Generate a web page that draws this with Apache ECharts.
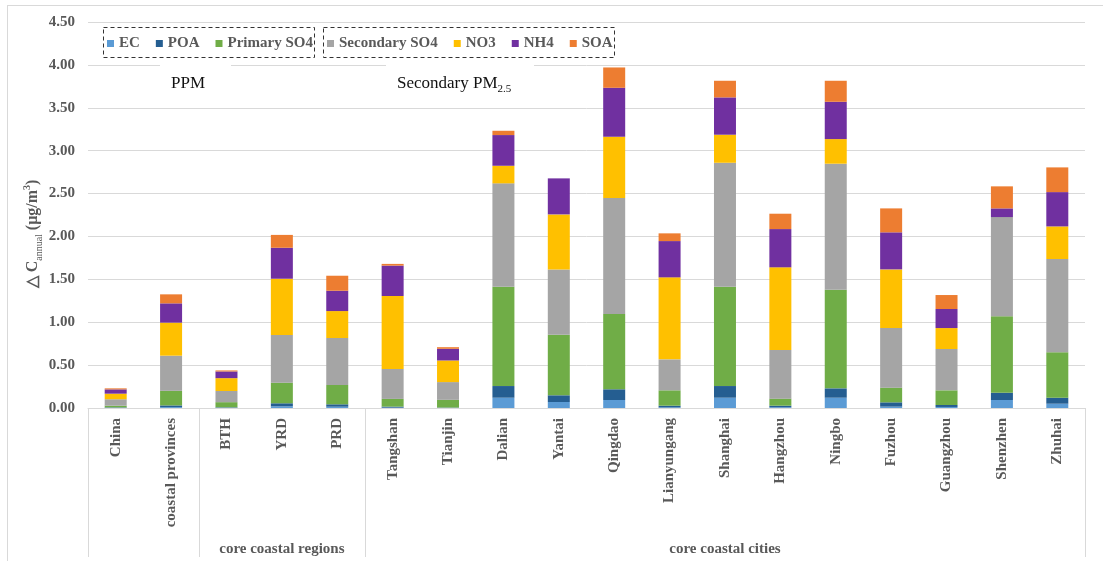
<!DOCTYPE html>
<html>
<head>
<meta charset="utf-8">
<script src="https://cdn.jsdelivr.net/npm/echarts@6/dist/echarts.min.js"></script>
<style>
html,body{margin:0;padding:0;background:#fff;}
#chart{width:1103px;height:561px;}
</style>
</head>
<body>
<div id="chart"></div>
<script>
const categories = ['China','coastal provinces','BTH','YRD','PRD','Tangshan','Tianjin','Dalian','Yantai','Qingdao','Lianyungang','Shanghai','Hangzhou','Ningbo','Fuzhou','Guangzhou','Shenzhen','Zhuhai'];
const EC           = [0.002,0.01,0.003,0.02,0.015,0.004,0.002,0.12,0.07,0.093,0.007,0.12,0.008,0.12,0.016,0.012,0.093,0.05];
const POA          = [0.005,0.02,0.005,0.035,0.028,0.012,0.003,0.136,0.078,0.125,0.02,0.136,0.019,0.109,0.05,0.023,0.085,0.07];
const PrimarySO4   = [0.02,0.17,0.06,0.24,0.225,0.09,0.09,1.158,0.707,0.878,0.179,1.158,0.082,1.15,0.171,0.171,0.891,0.529];
const SecondarySO4 = [0.075,0.41,0.13,0.555,0.548,0.35,0.207,1.205,0.761,1.352,0.361,1.445,0.567,1.469,0.695,0.482,1.157,1.088];
const NO3          = [0.065,0.385,0.15,0.657,0.314,0.85,0.252,0.205,0.641,0.714,0.956,0.327,0.964,0.287,0.684,0.244,0,0.38];
const NH4          = [0.05,0.225,0.078,0.361,0.237,0.354,0.136,0.358,0.42,0.571,0.423,0.435,0.446,0.435,0.432,0.222,0.101,0.4];
const SOA          = [0.012,0.105,0.012,0.15,0.175,0.02,0.019,0.05,0,0.237,0.09,0.194,0.179,0.245,0.279,0.163,0.257,0.288];
const yTicks = [0,0.5,1,1.5,2,2.5,3,3.5,4,4.5];
const groups = [
  {label:'', from:0, to:1},
  {label:'core coastal regions', from:2, to:4},
  {label:'core coastal cities', from:5, to:17}
];

const seriesDefs = [
  ['EC', EC, '#5B9BD5'],
  ['POA', POA, '#255E91'],
  ['Primary SO4', PrimarySO4, '#70AD47'],
  ['Secondary SO4', SecondarySO4, '#A5A5A5'],
  ['NO3', NO3, '#FFC000'],
  ['NH4', NH4, '#7030A0'],
  ['SOA', SOA, '#ED7D31']
];

const SERIF = "'Liberation Serif','Times New Roman',serif";
const GRAY = '#595959';
const LINE = '#d9d9d9';
const gridL = 88, gridR = 1085, gridT = 22, gridB = 408, W = 1103, H = 561;

const chart = echarts.init(document.getElementById('chart'));
const legendText = {fontFamily: SERIF, fontWeight: 'bold', fontSize: 15, color: GRAY};

const option = {
  animation: false,
  backgroundColor: '#fff',
  grid: {left: gridL, right: W - gridR, top: gridT, bottom: H - gridB, containLabel: false},
  legend: [
    {data: ['EC','POA','Primary SO4'], left: 107, top: 36, padding: 0, itemWidth: 7, itemHeight: 7, itemGap: 16, icon: 'rect', textStyle: legendText},
    {data: ['Secondary SO4','NO3','NH4','SOA'], left: 327, top: 36, padding: 0, itemWidth: 7, itemHeight: 7, itemGap: 16, icon: 'rect', textStyle: legendText}
  ],
  xAxis: {
    type: 'category',
    data: categories,
    boundaryGap: true,
    axisLine: {lineStyle: {color: LINE, width: 1}},
    axisTick: {show: false},
    axisLabel: {interval: 0, rotate: 90, margin: 10, fontFamily: SERIF, fontWeight: 'bold', fontSize: 15, color: GRAY}
  },
  yAxis: {
    type: 'value',
    min: yTicks[0], max: yTicks[yTicks.length - 1], interval: 0.5,
    axisLine: {show: false},
    axisTick: {show: false},
    splitLine: {lineStyle: {color: LINE, width: 1}},
    axisLabel: {margin: 13, fontFamily: SERIF, fontWeight: 'bold', fontSize: 15, color: GRAY, formatter: v => v.toFixed(2)}
  },
  series: seriesDefs.map(([name, data, color]) => ({
    name, type: 'bar', stack: 'total', data, barWidth: 22,
    itemStyle: {color}, emphasis: {disabled: true}
  }))
};
chart.setOption(option);

// decorations: separators, group labels, annotation boxes
const catW = (gridR - gridL) / categories.length;
const graphics = [];
// outer figure border
graphics.push({type:'line', shape:{x1:7,y1:5.5,x2:W,y2:5.5}, style:{stroke:LINE, lineWidth:1}, z:10});
graphics.push({type:'line', shape:{x1:7.5,y1:5,x2:7.5,y2:H}, style:{stroke:LINE, lineWidth:1}, z:10});
// category group separators
const bounds = [0];
groups.forEach(g => bounds.push(g.to + 1));
bounds.forEach(b => {
  const x = Math.round(gridL + b * catW) + 0.5;
  graphics.push({type:'line', shape:{x1:x,y1:gridB,x2:x,y2:557}, style:{stroke:LINE, lineWidth:1}, z:10});
});
groups.forEach(g => {
  if (!g.label) return;
  const cx = gridL + (g.from + g.to + 1) / 2 * catW;
  graphics.push({type:'text', x: cx, y: 549, z:10, style:{text: g.label, fontFamily: SERIF, fontWeight:'bold', fontSize:15, fill: GRAY, align:'center', verticalAlign:'middle'}});
});
// dashed legend boxes
graphics.push({type:'rect', shape:{x:103.5,y:27.5,width:211,height:30}, style:{fill:null, stroke:'#333', lineWidth:1, lineDash:[4,3]}, z:10});
graphics.push({type:'rect', shape:{x:323.5,y:27.5,width:291,height:30}, style:{fill:null, stroke:'#333', lineWidth:1, lineDash:[4,3]}, z:10});
// white text boxes hiding grid line
graphics.push({type:'rect', shape:{x:160,y:62,width:71,height:38}, style:{fill:'#fff'}, z:10});
graphics.push({type:'rect', shape:{x:386,y:62,width:148,height:38}, style:{fill:'#fff'}, z:10});
graphics.push({type:'text', x:188, y:84, z:11, style:{text:'PPM', fontFamily: SERIF, fontSize:17, fill:'#111', align:'center', verticalAlign:'middle'}});
graphics.push({type:'text', x:397, y:84, z:11, style:{
  text:'{a|Secondary PM}{b|2.5}', align:'left', verticalAlign:'middle',
  rich:{
    a:{fontFamily: SERIF, fontSize:17, fill:'#111', lineHeight:22, verticalAlign:'middle'},
    b:{fontFamily: SERIF, fontSize:11, fill:'#111', lineHeight:11, verticalAlign:'bottom'}
  }}});
// y axis title
graphics.push({type:'text', x:33, y:234, rotation: Math.PI/2, z:11, style:{
  text:'{r|△ C}{s|annual}{r| (μg/m}{p|3}{r|)}', align:'center', verticalAlign:'middle',
  rich:{
    r:{fontFamily: SERIF, fontWeight:'bold', fontSize:16, fill:GRAY, lineHeight:22, verticalAlign:'middle'},
    s:{fontFamily: SERIF, fontSize:10, fill:GRAY, lineHeight:10, verticalAlign:'bottom'},
    p:{fontFamily: SERIF, fontWeight:'bold', fontSize:10, fill:GRAY, lineHeight:10, verticalAlign:'top'}
  }}});
chart.setOption({graphic: graphics});
</script>
</body>
</html>
